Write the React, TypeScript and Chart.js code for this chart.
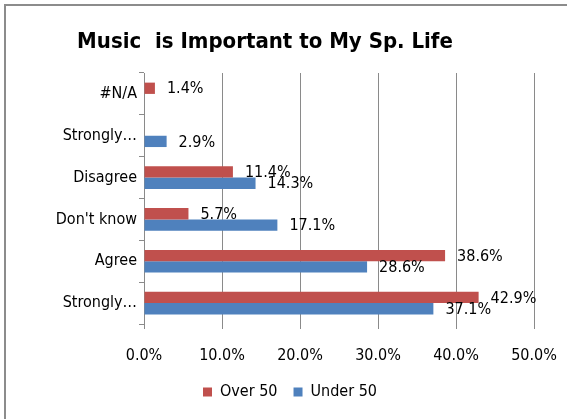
import React, { useEffect, useRef } from "react";
import { Chart, registerables } from "chart.js";

Chart.register(...registerables);

const TITLE = "Music  is Important to My Sp. Life";
const categories = ["#N/A", "Strongly…", "Disagree", "Don't know", "Agree", "Strongly…"];
const over50 = [1.4, 0, 11.4, 5.7, 38.6, 42.9];
const under50 = [0, 2.9, 14.3, 17.1, 28.6, 37.1];
const seriesNames = ["Over 50", "Under 50"];
const xTicks = { min: 0, max: 50, step: 10 };

const FONT = "'Liberation Sans Narrow', 'Arial Narrow', 'DejaVu Sans Condensed', sans-serif";
const RED = "#C0504D";
const BLUE = "#4F81BD";
const GRID = "#8a8a8a";

const framePlugin = {
  id: "frame",
  beforeDraw(chart: any) {
    const { ctx, width, height } = chart;
    ctx.save();
    ctx.fillStyle = "#ffffff";
    ctx.fillRect(0, 0, width, height);
    ctx.strokeStyle = "#8c8c8c";
    ctx.lineWidth = 2;
    ctx.strokeRect(5, 5, width + 20, height + 20);
    ctx.fillStyle = "#000000";
    ctx.font = `bold 22px ${FONT}`;
    ctx.textAlign = "center";
    ctx.textBaseline = "alphabetic";
    ctx.fillText(TITLE, 265, 48);
    ctx.restore();
  },
};

const labelPlugin = {
  id: "barLabels",
  afterDatasetsDraw(chart: any) {
    const { ctx } = chart;
    ctx.save();
    ctx.fillStyle = "#000000";
    ctx.font = `16px ${FONT}`;
    ctx.textAlign = "left";
    ctx.textBaseline = "middle";
    chart.data.datasets.forEach((ds: any, i: number) => {
      const meta = chart.getDatasetMeta(i);
      meta.data.forEach((el: any, j: number) => {
        const v = ds.data[j];
        if (!v) return;
        ctx.fillText(v.toFixed(1) + "%", el.x + 12, el.y + 1);
      });
    });
    ctx.restore();
  },
};

export default function App() {
  const ref = useRef<HTMLCanvasElement>(null);
  useEffect(() => {
    if (!ref.current) return;
    const chart = new Chart(ref.current, {
      type: "bar",
      data: {
        labels: categories,
        datasets: [
          { label: seriesNames[0], data: over50, backgroundColor: RED, categoryPercentage: 0.54, barPercentage: 1 },
          { label: seriesNames[1], data: under50, backgroundColor: BLUE, categoryPercentage: 0.54, barPercentage: 1 },
        ],
      },
      options: {
        indexAxis: "y",
        animation: false,
        responsive: false,
        devicePixelRatio: 1,
        layout: { padding: { left: 46, right: 33, top: 73, bottom: 9 } },
        scales: {
          x: {
            min: xTicks.min,
            max: xTicks.max,
            ticks: {
              stepSize: xTicks.step,
              color: "#000000",
              font: { family: FONT, size: 16 },
              padding: 17,
              callback: (v: any) => Number(v).toFixed(1) + "%",
            },
            grid: { color: GRID, tickLength: 5, tickColor: GRID, drawTicks: true },
            border: { display: false },
            afterFit(scale: any) {
              scale.height = 44;
              scale.paddingLeft = 0;
              scale.paddingRight = 0;
            },
          },
          y: {
            ticks: {
              color: "#000000",
              font: { family: FONT, size: 16 },
              padding: 2,
            },
            grid: { drawOnChartArea: false, tickLength: 5, color: GRID, tickColor: GRID },
            border: { display: true, color: GRID, width: 1 },
            afterFit(scale: any) {
              scale.width = 98;
              scale.paddingTop = 0;
              scale.paddingBottom = 0;
            },
          },
        },
        plugins: {
          title: { display: false },
          tooltip: { enabled: false },
          legend: {
            position: "bottom",
            labels: {
              boxWidth: 9,
              boxHeight: 9,
              color: "#000000",
              font: { family: FONT, size: 16 },
              padding: 16,
            },
          },
        },
      },
      plugins: [framePlugin, labelPlugin],
    } as any);
    return () => chart.destroy();
  }, []);
  return (
    <div style={{ position: "absolute", left: 0, top: 0, width: 567, height: 419 }}>
      <canvas ref={ref} width={567} height={419} style={{ width: 567, height: 419, display: "block" }} />
    </div>
  );
}
